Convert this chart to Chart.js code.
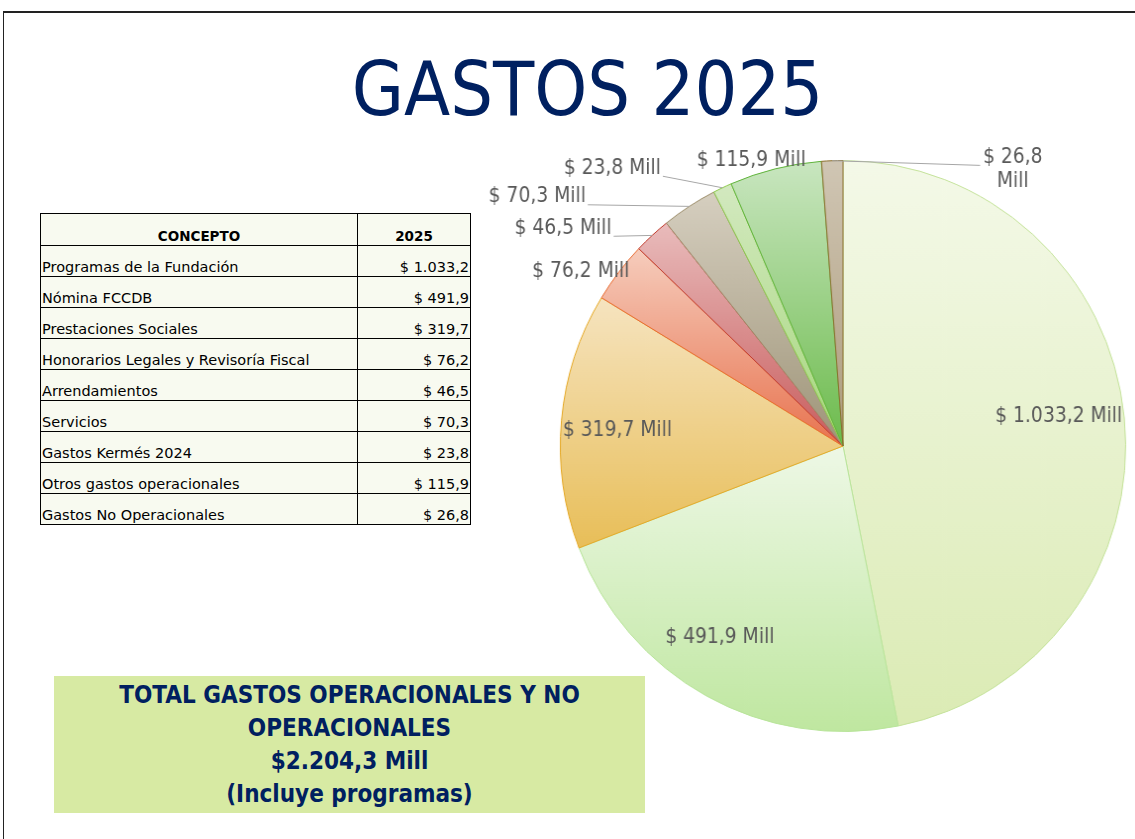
<!DOCTYPE html>
<html lang="es">
<head>
  <meta charset="UTF-8">
  <title>Gastos 2025</title>
  <script src="https://cdn.jsdelivr.net/npm/chart.js"></script>
  <style>
    html, body {
      margin: 0;
      padding: 0;
      width: 1135px;
      height: 839px;
      overflow: hidden;
      background: #fff;
    }

    .frame {
      position: absolute;
      left: 3px;
      top: 11px;
      width: 1140px;
      height: 840px;
      border-top: 2px solid #222;
      border-left: 1px solid #222;
    }

    h1 {
      position: absolute;
      left: 300px;
      width: 575px;
      top: 39px;
      margin: 0;
      text-align: center;
      font-family: "DejaVu Sans Condensed", "DejaVu Sans", sans-serif;
      font-weight: normal;
      font-size: 75px;
      line-height: 100px;
      color: #002060;
    }

    table {
      position: absolute;
      left: 40px;
      top: 213px;
      width: 431px;
      border-collapse: collapse;
      font-family: "DejaVu Sans", sans-serif;
      font-size: 14.5px;
      color: #000;
    }

    th, td {
      border: 1px solid #000;
      background: #f8faf0;
      padding: 0 1px 0 1px;
      vertical-align: bottom;
      height: 30px;
      line-height: 17px;
      white-space: nowrap;
    }

    th {
      height: 31px;
      text-align: center;
      font-weight: bold;
      font-size: 13.5px;
    }

    td.num {
      text-align: right;
    }

    .total {
      position: absolute;
      left: 54px;
      top: 676px;
      width: 591px;
      height: 137px;
      background: #d7eaa3;
      color: #002060;
      text-align: center;
      font-family: "DejaVu Sans Condensed", "DejaVu Sans", sans-serif;
      font-weight: bold;
      font-size: 24px;
      line-height: 33px;
      padding-top: 3px;
      box-sizing: border-box;
    }

    .chart-box {
      position: absolute;
      left: 468px;
      top: 130px;
      width: 665px;
      height: 630px;
      transform: scaleX(0.99);
      transform-origin: 375px 50%;
    }
  </style>
</head>
<body>
  <div class="frame"></div>
  <h1>GASTOS 2025</h1>

  <table id="data-table">
    <thead>
      <tr><th style="width:314px">CONCEPTO</th><th>2025</th></tr>
    </thead>
    <tbody></tbody>
  </table>

  <div class="total" id="total-box"></div>

  <div class="chart-box">
    <canvas id="gastosChart"></canvas>
  </div>

  <script>
    // Datos (millones de pesos)
    const categories = [
      'Programas de la Fundación',
      'Nómina FCCDB',
      'Prestaciones Sociales',
      'Honorarios Legales y Revisoría Fiscal',
      'Arrendamientos',
      'Servicios',
      'Gastos Kermés 2024',
      'Otros gastos operacionales',
      'Gastos No Operacionales'
    ];
    const values = [1033.2, 491.9, 319.7, 76.2, 46.5, 70.3, 23.8, 115.9, 26.8];
    const yearLabel = '2025';

    // Colores: degradado vertical (arriba -> abajo) y borde de cada porción
    const topColors = ['#f4f9e8', '#eef8e6', '#f6e4c0', '#f6cdbd', '#e9bcbc', '#d6cfc0', '#d3e9c0', '#c9e6c0', '#d0c6b4'];
    const bottomColors = ['#dbebb4', '#bfe7a0', '#e8be58', '#e8734f', '#c85c5c', '#9e9478', '#a6d77c', '#6cbb4c', '#ad9c7c'];
    const borderColors = ['#c4e29a', '#b8e49a', '#e5a825', '#e8692e', '#c0392b', '#9c8d6a', '#8cc94a', '#5fb33a', '#8a6d2a'];

    // Posición de las etiquetas: ángulo (grados desde arriba, sentido horario),
    // radio relativo, y lado de la línea guía
    const labelAngles = [82.4, 213, 274, 303.3, 307.6, 308.9, 320, 342, 31.8];
    const labelRadii = [0.77, 0.80, 0.80, 1.11, 1.25, 1.39, 1.27, 1.05, 1.14];
    const labelLeaders = [null, null, null, null, 'left', 'left', 'left', null, 'right'];

    // Formato colombiano: 1033.2 -> 1.033,2
    function formatCOP(v) {
      const parts = v.toFixed(1).split('.');
      parts[0] = parts[0].replace(/\B(?=(\d{3})+(?!\d))/g, '.');
      return parts.join(',');
    }

    function populateTable() {
      const tbody = document.querySelector('#data-table tbody');
      document.querySelector('#data-table thead th:last-child').innerText = yearLabel;
      categories.forEach((cat, i) => {
        const row = tbody.insertRow();
        row.insertCell(0).innerText = cat;
        const c = row.insertCell(1);
        c.className = 'num';
        c.innerText = '$ ' + formatCOP(values[i]);
      });
    }

    function populateTotal() {
      const total = values.reduce((a, b) => a + b, 0);
      document.getElementById('total-box').innerHTML =
        'TOTAL GASTOS OPERACIONALES Y NO<br>OPERACIONALES<br>$' +
        formatCOP(total) + ' Mill<br>(Incluye programas)';
    }

    // Degradado por porción, ajustado a la altura de cada porción
    function sliceGradient(context) {
      const chart = context.chart;
      const area = chart.chartArea;
      const i = context.dataIndex;
      if (!area || i === undefined) return topColors[i || 0];
      const cx = (area.left + area.right) / 2;
      const cy = (area.top + area.bottom) / 2;
      const r = Math.min(area.right - area.left, area.bottom - area.top) / 2;
      const total = values.reduce((a, b) => a + b, 0);
      let before = 0;
      for (let k = 0; k < i; k++) before += values[k];
      const a0 = -Math.PI / 2 + before / total * 2 * Math.PI;
      const a1 = a0 + values[i] / total * 2 * Math.PI;
      const ys = [cy, cy + r * Math.sin(a0), cy + r * Math.sin(a1)];
      [-Math.PI / 2, Math.PI / 2, 3 * Math.PI / 2].forEach(a => {
        if (a >= a0 && a <= a1) ys.push(cy + r * Math.sin(a));
      });
      const y0 = Math.min(...ys);
      const y1 = Math.max(...ys);
      const g = chart.ctx.createLinearGradient(0, y0, 0, y1);
      g.addColorStop(0, topColors[i]);
      g.addColorStop(1, bottomColors[i]);
      return g;
    }

    // Etiquetas de las porciones con líneas guía
    const sliceLabels = {
      id: 'sliceLabels',
      afterDatasetsDraw(chart) {
        const ctx = chart.ctx;
        const arcs = chart.getDatasetMeta(0).data;
        ctx.save();
        ctx.font = '21px "DejaVu Sans Condensed", "DejaVu Sans", sans-serif';
        ctx.fillStyle = '#595959';
        ctx.textAlign = 'center';
        ctx.textBaseline = 'middle';
        arcs.forEach((arc, i) => {
          const p = arc.getProps(['x', 'y', 'startAngle', 'endAngle', 'outerRadius'], true);
          const a = labelAngles[i] * Math.PI / 180;
          const lx = p.x + Math.sin(a) * labelRadii[i] * p.outerRadius;
          const ly = p.y - Math.cos(a) * labelRadii[i] * p.outerRadius;
          const text = '$ ' + formatCOP(values[i]);
          const lines = labelLeaders[i] === 'right' ? [text, 'Mill'] : [text + ' Mill'];
          const lh = 24;
          const firstY = ly - (lines.length - 1) * lh / 2;
          lines.forEach((t, k) => ctx.fillText(t, lx, firstY + k * lh));

          if (labelLeaders[i]) {
            const mid = (p.startAngle + p.endAngle) / 2;
            const ex = p.x + Math.cos(mid) * p.outerRadius;
            const ey = p.y + Math.sin(mid) * p.outerRadius;
            const w = ctx.measureText(lines[0]).width;
            const sx = labelLeaders[i] === 'left' ? lx + w / 2 + 2 : lx - w / 2 - 3;
            const sy = firstY + 8;
            ctx.beginPath();
            ctx.strokeStyle = '#a6a6a6';
            ctx.lineWidth = 1;
            ctx.moveTo(sx, sy);
            ctx.lineTo(ex, ey);
            ctx.stroke();
          }
        });
        ctx.restore();
      }
    };

    function renderChart() {
      const ctx = document.getElementById('gastosChart').getContext('2d');
      new Chart(ctx, {
        type: 'pie',
        data: {
          labels: categories,
          datasets: [{
            data: values,
            backgroundColor: sliceGradient,
            borderColor: borderColors,
            borderWidth: 1
          }]
        },
        options: {
          responsive: true,
          maintainAspectRatio: false,
          animation: false,
          layout: {
            padding: { left: 89, right: 4, top: 30, bottom: 28 }
          },
          plugins: {
            legend: { display: false },
            tooltip: { enabled: false }
          }
        },
        plugins: [sliceLabels]
      });
    }

    populateTable();
    populateTotal();
    renderChart();
  </script>
</body>
</html>
